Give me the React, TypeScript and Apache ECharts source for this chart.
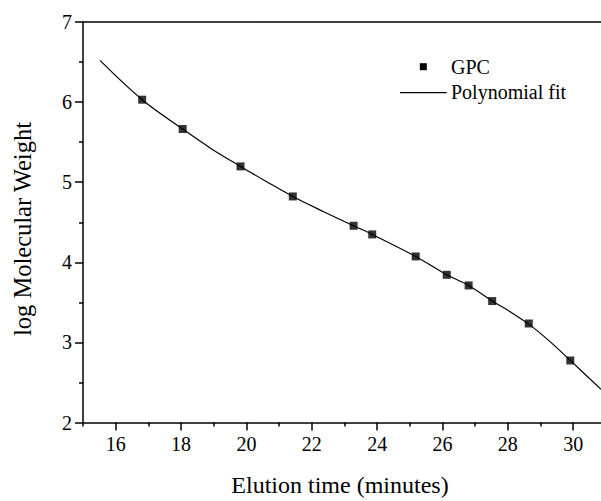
import React, { useEffect, useRef } from "react";
import * as echarts from "echarts";

const gpcX = [16.81, 18.05, 19.82, 21.42, 23.28, 23.85, 25.18, 26.13, 26.8, 27.52, 28.64, 29.91];
const gpcY = [6.03, 5.664, 5.197, 4.822, 4.456, 4.348, 4.073, 3.844, 3.711, 3.516, 3.236, 2.774];

const fitX = [15.52, 16.81, 18.05, 18.9, 19.82, 20.62, 21.42, 22.35, 23.28, 23.85, 25.18, 26.13, 26.8, 27.52, 28.1, 28.64, 29.29, 29.91, 30.85];
const fitY = [6.52, 6.03, 5.664, 5.425, 5.197, 5.006, 4.822, 4.635, 4.456, 4.348, 4.073, 3.844, 3.711, 3.518, 3.375, 3.228, 3.01, 2.775, 2.415];

const xMajorTicks = [16, 18, 20, 22, 24, 26, 28, 30];
const xMinorTicks = [15, 17, 19, 21, 23, 25, 27, 29];

const FONT = "Liberation Serif";

export default function App() {
  const ref = useRef<HTMLDivElement>(null);
  useEffect(() => {
    if (!ref.current) return;
    document.body.style.margin = "0";
    const chart = echarts.init(ref.current, null, { renderer: "svg" });
    const axisLine = { show: true, lineStyle: { color: "#000", width: 1.5 } };
    const txt = (text: string, x: number, y: number, size: number, align: string, rotation = 0) => ({
      type: "text",
      x,
      y,
      rotation,
      style: { text, fontFamily: FONT, fontSize: size, fill: "#000", align, verticalAlign: "middle" },
    });
    chart.setOption({
      animation: false,
      backgroundColor: "#fff",
      textStyle: { fontFamily: FONT },
      grid: { left: 83, top: 22, width: 518, height: 400.5, containLabel: false },
      xAxis: [
        {
          type: "value",
          min: 15,
          max: 30.85,
          position: "bottom",
          axisLine,
          axisTick: { show: true, customValues: xMajorTicks, length: 8, lineStyle: { color: "#000", width: 1.5 } },
          axisLabel: { customValues: xMajorTicks, color: "#000", fontFamily: FONT, fontSize: 20, margin: 11 },
          splitLine: { show: false },
        },
        {
          type: "value",
          min: 15,
          max: 30.85,
          position: "bottom",
          axisLine: { show: false },
          axisTick: { show: true, customValues: xMinorTicks, length: 4, lineStyle: { color: "#000", width: 1.5 } },
          axisLabel: { show: false },
          splitLine: { show: false },
        },
        {
          type: "value",
          min: 15,
          max: 30.85,
          position: "top",
          axisLine,
          axisTick: { show: false },
          axisLabel: { show: false },
          splitLine: { show: false },
        },
      ],
      yAxis: {
        type: "value",
        min: 2,
        max: 7,
        interval: 1,
        axisLine,
        axisTick: { show: true, length: 8, lineStyle: { color: "#000", width: 1.5 } },
        minorTick: { show: true, splitNumber: 2, length: 4, lineStyle: { color: "#000", width: 1.5 } },
        axisLabel: { color: "#000", fontFamily: FONT, fontSize: 20, margin: 11 },
        splitLine: { show: false },
      },
      series: [
        {
          name: "Polynomial fit",
          type: "line",
          xAxisIndex: 0,
          data: fitX.map((x, i) => [x, fitY[i]]),
          smooth: 0.35,
          showSymbol: false,
          symbol: "none",
          lineStyle: { color: "#000", width: 1.2 },
          z: 2,
        },
        {
          name: "GPC",
          type: "scatter",
          xAxisIndex: 0,
          data: gpcX.map((x, i) => [x, gpcY[i]]),
          symbol: "rect",
          symbolSize: 8,
          itemStyle: { color: "#000" },
          z: 3,
        },
      ],
      graphic: [
        { type: "rect", shape: { x: 419.8, y: 63.2, width: 7, height: 7 }, style: { fill: "#000" } },
        txt("GPC", 451, 67, 20, "left"),
        { type: "line", shape: { x1: 400, y1: 92.7, x2: 446.7, y2: 92.7 }, style: { stroke: "#000", lineWidth: 1.2 } },
        txt("Polynomial fit", 451, 91.5, 20, "left"),
        txt("Elution time (minutes)", 340, 485, 24, "center"),
        txt("log Molecular Weight", 22, 229, 24.5, "center", Math.PI / 2),
      ],
    });
    return () => chart.dispose();
  }, []);
  return <div ref={ref} style={{ position: "absolute", left: 0, top: 0, width: 601, height: 501 }} />;
}
